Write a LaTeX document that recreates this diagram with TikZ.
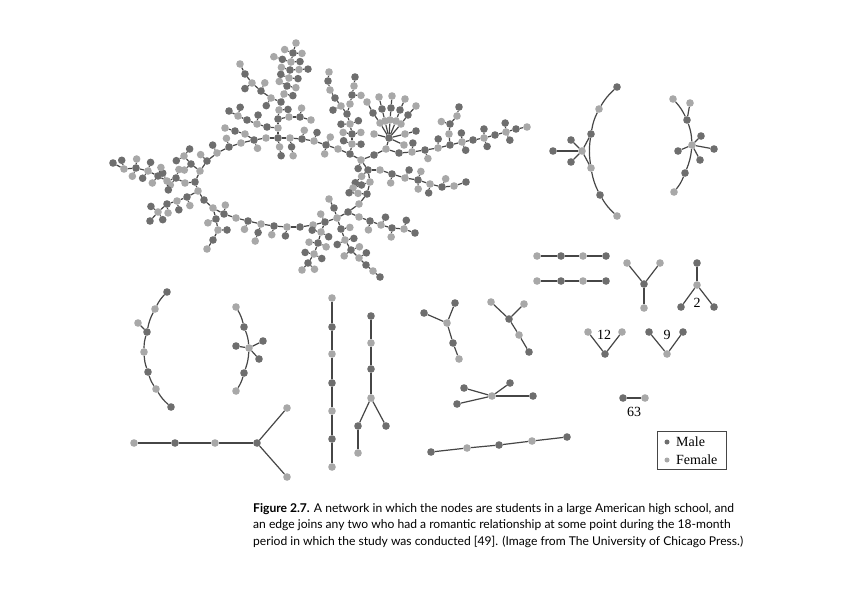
\documentclass[tikz,border=0pt]{standalone}
\usepackage{fontspec}
\setmainfont{Liberation Serif}
\newfontfamily\capfont{Lato}
\usetikzlibrary{calc, positioning}

\definecolor{MaleGray}{RGB}{110,110,110}
\definecolor{FemaleGray}{RGB}{168,168,168}
\definecolor{LinkGray}{RGB}{70,70,70}

\tikzset{
    sex0/.style={circle, fill=MaleGray, inner sep=0pt, minimum size=7.6pt},
    sex1/.style={circle, fill=FemaleGray, inner sep=0pt, minimum size=7.6pt},
    male/.style={sex0}, female/.style={sex1},
    link/.style={draw=LinkGray, line width=1.2pt},
    tag/.style={font=\fontsize{14}{14}\selectfont, inner sep=0pt},
}

% twig: node, previous node, count (0-2), angle, suffix
\newcommand\twlen{9pt}
\newcommand\twlenb{18pt}
\newcommand\twig[5]{%
  \ifnum#3>0
    \pgfmathtruncatemacro\tsex{1-\gsex}%
    \node[sex\tsex] (#1#5) at ($(#1)!\twlen!#4:(#2)$) {};
    \draw[link] (#1) -- (#1#5);
    \ifnum#3>1
      \node[sex\gsex] (#1#5#5) at ($(#1)!\twlenb!#4:(#2)$) {};
      \draw[link] (#1#5) -- (#1#5#5);
    \fi
  \fi}
% branch: prefix, root node, x/y/twigs right/twigs left
\newcommand\branch[3]{%
  \edef\rootpar{\csname np@#2\endcsname}%
  \foreach \px/\py/\pa/\pb [count=\i, remember=\i as \j (initially 0)] in {#3}{%
    \pgfmathtruncatemacro\gsex{mod(\rootpar+\i,2)}%
    \ifnum\i=1 \def\prev{#2}\else\edef\prev{#1-\j}\fi
    \node[sex\gsex] (#1-\i) at (\px,\py) {};
    \expandafter\xdef\csname np@#1-\i\endcsname{\gsex}%
    \draw[link] (\prev) -- (#1-\i);
    \twig{#1-\i}{\prev}{\pa}{100}{a}%
    \twig{#1-\i}{\prev}{\pb}{-100}{b}%
  }%
}

\begin{document}
\begin{tikzpicture}[x=1pt, y=-1pt]
\fill[white] (0,0) rectangle (842,595);
\useasboundingbox (0,0) rectangle (842,595);

% ============ giant component ============
\node[male] (r-0) at (195,182) {};
\expandafter\gdef\csname np@r-0\endcsname{0}
\branch{r}{r-0}{200/171/0/0, 207/161/0/1, 217/153/0/1, 229/147/0/1, 241/143/0/0,
  254/140/1/0, 266/138/0/0, 278/138/2/0, 290/138/2/0, 302/139/0/1, 314/141/0/1,
  326/145/1/1, 338/149/0/0, 350/154/0/0, 361/160/1/0, 368/170/2/0, 370/182/2/0,
  367/194/2/0, 359/204/0/0, 348/212/0/0, 337/218/0/0, 325/222/1/0, 313/225/0/0,
  300/227/0/0, 287/227/0/1, 274/226/0/1, 261/224/0/2, 248/221/0/1, 236/218/0/0,
  224/214/1/0, 213/208/0/0, 204/200/0/0, 198/191/0/0}
\draw[link] (r-33) -- (r-0);

% top fern
\branch{t}{r-8}{278/128/0/0, 278/119/0/0, 279/110/1/0, 281/102/0/0, 284/94/1/0,
  287/86/1/1, 289/78/1/1, 290/70/2/1, 291/62/1/2, 293/53/1/1, 296/43/0/0}
\branch{tl}{t-4}{271/98/0/1, 261/91/1/0, 252/83/0/1, 245/74/0/0, 240/64/0/0}
\branch{tm}{t-1}{267/127/0/0, 257/124/1/0, 247/120/0/0, 238/116/1/0, 229/111/0/0}
\branch{tn}{r-6}{245/134/0/0, 235/131/0/0, 225/128/0/0}
\branch{tr}{t-2}{289/117/0/0, 300/117/0/1, 311/120/0/0}

% upper right fern and star
\branch{u}{r-14}{352/144/1/1, 352/134/1/1, 350/124/1/1, 347/114/0/0, 341/106/0/1,
  335/98/0/0, 330/90/0/0, 328/81/0/0, 329/72/0/0}
\branch{uu}{u-4}{350/104/0/0, 352/95/1/0, 354/86/0/0, 355/77/0/0}
\branch{s}{r-15}{374/155/0/0, 386/149/0/0, 389/138/0/0}
\branch{sa}{s-3}{380/123/0/0, 373/113/0/0, 367/102/0/0}
\branch{sb}{s-3}{385/121/0/0, 382/109/0/0, 379/97/0/0}
\branch{sc}{s-3}{390/120/0/0, 391/108/0/0, 392/96/0/0}
\branch{sd}{s-3}{396/121/0/0, 400/110/0/0, 405/99/0/0}
\branch{se}{s-3}{401/124/0/0, 408/115/0/0, 416/106/0/0}
\branch{sf}{s-3}{405/134/0/0, 416/131/0/0}
\branch{sg}{s-3}{404/145/0/0}
\branch{sh}{s-3}{374/134/0/0}

% right arms
\branch{v}{s-2}{399/153/0/0, 412/152/0/1, 425/150/1/0, 438/148/0/1, 450/145/0/0,
  462/142/1/1, 473/140/0/0, 484/138/1/1, 495/135/0/0, 506/132/1/1, 516/129/0/0,
  527/127/0/0}
\branch{vv}{v-5}{449/134/0/0, 450/124/0/1, 457/116/0/0, 459/107/0/0}
\branch{w}{r-16}{380/170/0/0, 392/174/1/0, 405/178/0/1, 418/180/1/1, 430/184/1/0,
  442/187/0/1, 454/186/0/0, 466/182/0/0}

% bottom cluster
\branch{x}{r-20}{359/217/0/0, 370/221/1/0, 381/225/0/1, 392/228/1/0, 404/229/0/1,
  415/233/0/0}
\branch{xd}{r-21}{341/229/0/1, 345/240/1/1, 351/250/1/1, 359/258/0/1, 366/265/0/0,
  373/271/0/0, 380/277/0/0}
\branch{xl}{r-22}{321/232/1/1, 318/243/1/1, 314/254/1/1, 308/263/0/1, 302/270/0/0}
\branch{xu}{r-21}{334/208/0/0, 329/199/0/0}

% left cluster
\branch{la}{r-0}{185/183/0/0, 176/178/1/1, 167/181/1/1, 158/176/1/1, 148/171/1/1,
  136/168/1/1, 124/169/1/0, 113/163/0/0}
\branch{lb}{r-33}{187/197/0/1, 177/201/0/1, 167/204/0/1, 158/212/1/1, 150/221/0/0}
\branch{lc}{r-1}{191/164/0/1, 184/156/1/1}
\branch{ld}{r-31}{216/219/1/0, 218/230/0/1, 213/240/0/0, 207/249/0/0}

% ============ arcs, upper right ============
\node[male]   (a1) at (617,87)  {};
\node[female] (a2) at (599,109) {};
\node[male]   (a3) at (591,134) {};
\node[female] (a4) at (591,168) {};
\node[male]   (a5) at (600,195) {};
\node[female] (a6) at (617,216) {};
\node[female] (ah) at (582,151) {};
\node[male]   (ah1) at (553,151) {};
\node[male]   (ah2) at (571,140) {};
\node[male]   (ah3) at (571,162) {};
\foreach \p/\q in {a1/a2,a2/a3,a3/a4,a4/a5,a5/a6} \draw[link] (\p) to[bend right=8] (\q);
\foreach \q in {a3,a4,ah1,ah2,ah3} \draw[link] (ah) -- (\q);

\node[female] (b1) at (673,99)  {};
\node[female] (b2) at (690,103) {};
\node[male]   (b3) at (687,120) {};
\node[female] (bh) at (692,145) {};
\node[male]   (b4) at (685,173) {};
\node[female] (b5) at (674,192) {};
\node[male]   (bh1) at (701,136) {};
\node[male]   (bh2) at (714,149) {};
\node[male]   (bh3) at (700,160) {};
\node[male]   (bh4) at (678,151) {};
\foreach \p/\q in {b1/b3,b3/bh,bh/b4,b4/b5} \draw[link] (\p) to[bend left=8] (\q);
\draw[link] (b2) -- (b3);
\foreach \q in {bh1,bh2,bh3,bh4} \draw[link] (bh) -- (\q);

% ============ small pieces, right ============
\foreach \x [count=\i] in {537,561,583,606} {
  \pgfmathtruncatemacro\gsex{mod(\i,2)}
  \node[sex\gsex] (l\i) at (\x,256) {};
  \node[sex\gsex] (m\i) at (\x,281) {};
}
\foreach \p/\q in {1/2,2/3,3/4} {\draw[link] (l\p) -- (l\q); \draw[link] (m\p) -- (m\q);}

\node[female] (y1) at (627,263) {};
\node[female] (y2) at (660,263) {};
\node[male]   (yh) at (644,284) {};
\node[female] (y3) at (644,308) {};
\foreach \q in {y1,y2,y3} \draw[link] (yh) -- (\q);

\node[male]   (z1) at (697,263) {};
\node[female] (zh) at (697,285) {};
\node[male]   (z2) at (681,307) {};
\node[male]   (z3) at (714,307) {};
\foreach \q in {z1,z2,z3} \draw[link] (zh) -- (\q);
\node[tag] (lab2) at (697,303) {2};

\node[female] (p1) at (588,332) {};
\node[female] (p2) at (622,332) {};
\node[male]   (ph) at (605,354) {};
\foreach \q in {p1,p2} \draw[link] (ph) -- (\q);
\node[tag] (lab12) at (604,335) {12};

\node[male]   (q1) at (649,332) {};
\node[male]   (q2) at (683,332) {};
\node[female] (qh) at (667,354) {};
\foreach \q in {q1,q2} \draw[link] (qh) -- (\q);
\node[tag] (lab9) at (667,335) {9};

\node[male]   (t1) at (623,398) {};
\node[female] (t2) at (645,398) {};
\draw[link] (t1) -- (t2);
\node[tag] (lab63) at (634,412) {63};

% ============ lower left ============
\node[male]   (c1) at (167,292) {};
\node[female] (c2) at (155,309) {};
\node[male]   (c3) at (147,332) {};
\node[female] (c4) at (144,352) {};
\node[male]   (c5) at (148,372) {};
\node[female] (c6) at (156,389) {};
\node[male]   (c7) at (171,407) {};
\node[female] (ct) at (138,323) {};
\foreach \p/\q in {c1/c2,c2/c3,c3/c4,c4/c5,c5/c6,c6/c7} \draw[link] (\p) to[bend right=8] (\q);
\draw[link] (c3) -- (ct);

\node[female] (d1) at (236,307) {};
\node[male]   (d2) at (244,327) {};
\node[female] (dh) at (249,348) {};
\node[male]   (d3) at (244,373) {};
\node[female] (d4) at (236,391) {};
\node[male]   (dh1) at (236,346) {};
\node[male]   (dh2) at (263,341) {};
\node[male]   (dh3) at (259,359) {};
\foreach \p/\q in {d1/d2,d2/dh,dh/d3,d3/d4} \draw[link] (\p) to[bend left=8] (\q);
\foreach \q in {dh1,dh2,dh3} \draw[link] (dh) -- (\q);

\node[female] (e1) at (134,443) {};
\node[male]   (e2) at (175,443) {};
\node[female] (e3) at (215,443) {};
\node[male]   (eh) at (257,443) {};
\node[female] (e4) at (287,408) {};
\node[female] (e5) at (287,477) {};
\foreach \p/\q in {e1/e2,e2/e3,e3/eh,eh/e4,eh/e5} \draw[link] (\p) -- (\q);

% ============ middle ============
\foreach \y [count=\i] in {298,327,354,383,411,439,467} {
  \pgfmathtruncatemacro\gsex{mod(\i,2)}
  \node[sex\gsex] (f\i) at (332,\y) {};
}
\foreach \p/\q in {1/2,2/3,3/4,4/5,5/6,6/7} \draw[link] (f\p) -- (f\q);

\node[male]   (g1) at (371,316) {};
\node[female] (g2) at (371,343) {};
\node[male]   (g3) at (371,369) {};
\node[female] (g4) at (371,398) {};
\node[male]   (g5) at (358,426) {};
\node[male]   (g6) at (386,426) {};
\node[female] (g7) at (358,453) {};
\foreach \p/\q in {g1/g2,g2/g3,g3/g4,g4/g5,g4/g6,g5/g7} \draw[link] (\p) -- (\q);

\node[male]   (h1) at (424,313) {};
\node[male]   (h2) at (455,303) {};
\node[female] (hh) at (447,323) {};
\node[male]   (h3) at (453,343) {};
\node[female] (h4) at (459,359) {};
\foreach \p/\q in {hh/h1,hh/h2,hh/h3,h3/h4} \draw[link] (\p) -- (\q);

\node[female] (i1) at (491,302) {};
\node[female] (i2) at (524,304) {};
\node[male]   (ih) at (509,319) {};
\node[female] (i3) at (519,335) {};
\node[male]   (i4) at (529,352) {};
\foreach \p/\q in {ih/i1,ih/i2,ih/i3,i3/i4} \draw[link] (\p) -- (\q);

\node[female] (jh) at (492,396) {};
\node[male]   (j1) at (464,388) {};
\node[male]   (j2) at (510,383) {};
\node[male]   (j3) at (533,396) {};
\node[male]   (j4) at (457,404) {};
\foreach \q in {j1,j2,j3,j4} \draw[link] (jh) -- (\q);

\foreach \x/\y [count=\i] in {431/452,467/448,499/445,532/441,567/437} {
  \pgfmathtruncatemacro\gsex{1-mod(\i,2)}
  \node[sex\gsex] (k\i) at (\x,\y) {};
}
\foreach \p/\q in {1/2,2/3,3/4,4/5} \draw[link] (k\p) -- (k\q);

% ============ legend ============
\node[draw=LinkGray, line width=0.9pt, minimum width=69pt, minimum height=38pt,
      inner sep=0pt] (legend) at (691.5,450) {};
\node[male, minimum size=5pt]   (lgm) at (667,442) {};
\node[female, minimum size=5pt] (lgf) at (667,460) {};
\node[tag, anchor=west] (lgmt) at (676,442) {Male};
\node[tag, anchor=west] (lgft) at (676,460) {Female};

% ============ caption ============
\node[anchor=north west, inner sep=0pt, align=left,
      font=\capfont\fontsize{12.1}{16.5}\selectfont] (caption) at (253,503)
  {\textbf{Figure 2.7.} A network in which the nodes are students in a large American high school, and\\
   an edge joins any two who had a romantic relationship at some point during the 18-month\\
   period in which the study was conducted [49]. (Image from The University of Chicago Press.)};
\end{tikzpicture}
\end{document}
